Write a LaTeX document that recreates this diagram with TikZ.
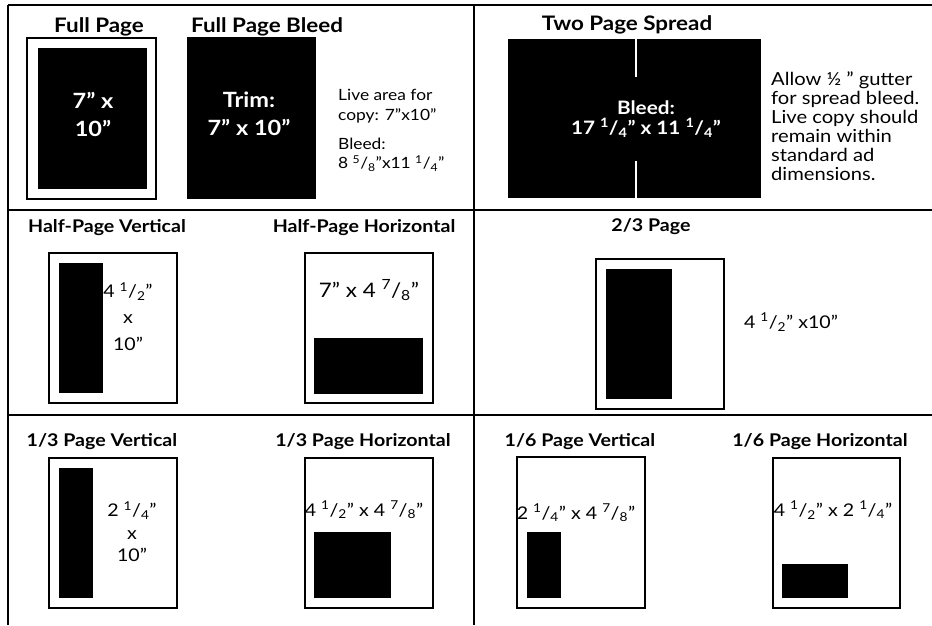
\documentclass[tikz,border=0pt]{standalone}
\usepackage{fontspec}
\setmainfont{Lato}[FakeStretch=1.12]
\usetikzlibrary{positioning}

\newcommand{\adfrac}[2]{\textsuperscript{#1}/\textsubscript{#2}}

\tikzset{
    rule/.style={line width=1.7pt},
    pageframe/.style={draw, line width=1.5pt},
    adarea/.style={fill=black},
    bigttl/.style={font=\bfseries\fontsize{20}{22}\selectfont, inner sep=0pt},
    ttl/.style={font=\bfseries\fontsize{17.5}{20}\selectfont, inner sep=0pt},
    inside/.style={text=white, align=center, inner sep=0pt},
    dim/.style={align=center, inner sep=0pt, font=\fontsize{17.5}{26}\selectfont},
    note/.style={align=left, anchor=west, inner sep=0pt},
}

\begin{document}
\begin{tikzpicture}[x=1pt, y=-1pt]
    \useasboundingbox (0,0) rectangle (932,625);

    % Table rules
    \draw[rule] (8,5) -- (932,5);
    \draw[rule] (8,5) -- (8,625);
    \draw[rule] (474,5) -- (474,625);
    \draw[rule] (8,210) -- (932,210);
    \draw[rule] (8,415) -- (932,415);

    % Full page
    \node[bigttl] (ttlFull) at (99,27) {Full Page};
    \draw[pageframe] (27,38) rectangle (156,199);
    \fill[adarea] (38,48) rectangle (147,189);
    \node[inside, font=\bfseries\fontsize{21}{28}\selectfont] (dimFull) at (93,114) {7'' x\\10''};

    % Full page bleed
    \node[bigttl] (ttlBleed) at (267,27) {Full Page Bleed};
    \fill[adarea] (187,37) rectangle (316,199);
    \node[inside, font=\bfseries\fontsize{21}{28}\selectfont] (dimTrim) at (249,114) {Trim:\\7'' x 10''};
    \node[note, font=\fontsize{15.5}{20}\selectfont] (noteLive) at (338,106)
        {Live area for\\copy: 7''x10''};
    \node[note, font=\fontsize{15.5}{19}\selectfont] (noteBleed) at (338,155)
        {Bleed:\\8 \adfrac{5}{8}''x11 \adfrac{1}{4}''};

    % Two page spread
    \node[bigttl] (ttlSpread) at (627,25) {Two Page Spread};
    \fill[adarea] (508,39) rectangle (761,198);
    \draw[white, line width=1.5pt] (636,39) -- (636,77);
    \draw[white, line width=1.5pt] (636,161) -- (636,198);
    \node[inside, font=\bfseries\fontsize{18.5}{20}\selectfont] (dimSpread) at (646,119)
        {Bleed:\\17 \adfrac{1}{4}'' x 11 \adfrac{1}{4}''};
    \node[note, font=\fontsize{18}{19}\selectfont] (noteSpread) at (771,126)
        {Allow ½ '' gutter\\for spread bleed.\\Live copy should\\remain within\\standard ad\\dimensions.};

    % Half page vertical
    \node[ttl] (ttlHalfV) at (107,228) {Half-Page Vertical};
    \draw[pageframe] (49,253) rectangle (177,403);
    \fill[adarea] (59,263) rectangle (103,393);
    \node[dim, font=\fontsize{17.5}{26.5}\selectfont] (dimHalfV) at (128,316.5)
        {4 \adfrac{1}{2}''\\x\\10''};

    % Half page horizontal
    \node[ttl] (ttlHalfH) at (364,228) {Half-Page Horizontal};
    \draw[pageframe] (305,253) rectangle (433,403);
    \fill[adarea] (314,338) rectangle (423,394);
    \node[dim, font=\fontsize{20}{26}\selectfont] (dimHalfH) at (369,290) {7'' x 4 \adfrac{7}{8}''};

    % Two-thirds page
    \node[ttl] (ttlTwoThird) at (651,227) {2/3 Page};
    \draw[pageframe] (596,259) rectangle (724,409);
    \fill[adarea] (606,269) rectangle (672,399);
    \node[dim] (dimTwoThird) at (791,322) {4 \adfrac{1}{2}'' x10''};

    % One-third page vertical
    \node[ttl] (ttlThirdV) at (102,442) {1/3 Page Vertical};
    \draw[pageframe] (49,458) rectangle (177,608);
    \fill[adarea] (59,468) rectangle (93,598);
    \node[dim, font=\fontsize{17.5}{22.5}\selectfont] (dimThirdV) at (132,532)
        {2 \adfrac{1}{4}''\\x\\10''};

    % One-third page horizontal
    \node[ttl] (ttlThirdH) at (363,442) {1/3 Page Horizontal};
    \draw[pageframe] (305,458) rectangle (433,608);
    \fill[adarea] (314,532) rectangle (391,598);
    \node[dim] (dimThirdH) at (364,510) {4 \adfrac{1}{2}'' x 4 \adfrac{7}{8}''};

    % One-sixth page vertical
    \node[ttl] (ttlSixthV) at (580,442) {1/6 Page Vertical};
    \draw[pageframe] (517,457) rectangle (645,608);
    \fill[adarea] (527,532) rectangle (561,598);
    \node[dim] (dimSixthV) at (576,513) {2 \adfrac{1}{4}'' x 4 \adfrac{7}{8}''};

    % One-sixth page horizontal
    \node[ttl] (ttlSixthH) at (820,442) {1/6 Page Horizontal};
    \draw[pageframe] (773,458) rectangle (900,608);
    \fill[adarea] (782,564) rectangle (848,598);
    \node[dim] (dimSixthH) at (833,510) {4 \adfrac{1}{2}'' x 2 \adfrac{1}{4}''};
\end{tikzpicture}
\end{document}
